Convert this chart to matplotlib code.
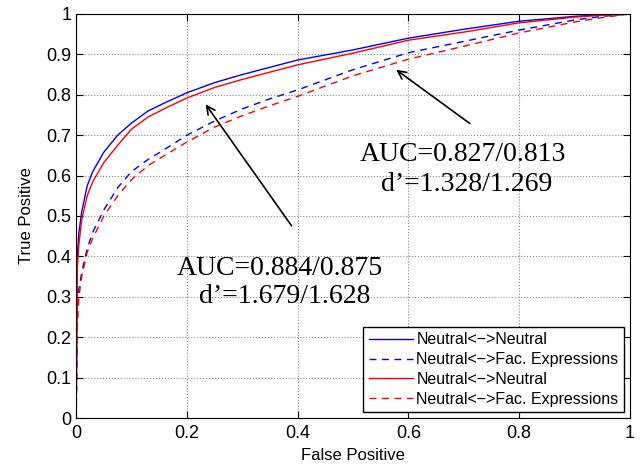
import numpy as np
import matplotlib
matplotlib.use('Agg')
import matplotlib.pyplot as plt

# valori
fpr = [0, 0.002, 0.005, 0.01, 0.02, 0.03, 0.05, 0.075, 0.1, 0.13, 0.16, 0.2,
       0.25, 0.3, 0.35, 0.4, 0.5, 0.6, 0.7, 0.8, 0.9, 0.95, 1.0]
tpr_blue = [0, 0.40, 0.46, 0.51, 0.575, 0.61, 0.658, 0.70, 0.73, 0.76, 0.78, 0.805,
            0.83, 0.85, 0.868, 0.886, 0.911, 0.94, 0.962, 0.982, 0.994, 0.998, 1.0]
tpr_blue_fac = [0, 0.26, 0.32, 0.36, 0.42, 0.46, 0.515, 0.57, 0.61, 0.64, 0.665, 0.70,
                0.735, 0.765, 0.79, 0.812, 0.862, 0.904, 0.932, 0.96, 0.985, 0.994, 1.0]
tpr_red = [0, 0.37, 0.43, 0.49, 0.55, 0.585, 0.632, 0.675, 0.715, 0.745, 0.766, 0.792,
           0.818, 0.838, 0.856, 0.874, 0.903, 0.935, 0.955, 0.978, 0.992, 0.997, 1.0]
tpr_red_fac = [0, 0.22, 0.30, 0.35, 0.41, 0.445, 0.50, 0.55, 0.59, 0.625, 0.65, 0.683,
               0.72, 0.748, 0.773, 0.796, 0.847, 0.888, 0.92, 0.953, 0.98, 0.991, 1.0]

labels = ['Neutral<\u2212>Neutral', 'Neutral<\u2212>Fac. Expressions',
          'Neutral<\u2212>Neutral', 'Neutral<\u2212>Fac. Expressions']

plt.rcParams['font.family'] = ['Liberation Sans', 'DejaVu Sans']

fig = plt.figure(figsize=(6.4, 4.65), dpi=100)
ax = fig.add_axes([0.119, 0.101, 0.865, 0.869])

ax.plot(fpr, tpr_blue, color='blue', lw=1, label=labels[0])
ax.plot(fpr, tpr_blue_fac, color='blue', lw=1, ls=(0, (5, 4)), label=labels[1])
ax.plot(fpr, tpr_red, color='red', lw=1, label=labels[2])
ax.plot(fpr, tpr_red_fac, color='red', lw=1, ls=(0, (5, 4)), label=labels[3])

ax.set_xlim(0, 1)
ax.set_ylim(0, 1)
ax.set_xticks(np.arange(0, 1.01, 0.2))
ax.set_xticklabels(['0', '0.2', '0.4', '0.6', '0.8', '1'])
ax.set_yticks(np.arange(0, 1.01, 0.1))
ax.set_yticklabels(['0', '0.1', '0.2', '0.3', '0.4', '0.5', '0.6', '0.7', '0.8', '0.9', '1'])
ax.tick_params(direction='in', top=True, right=True, labelsize=13, length=5)
ax.tick_params(axis='x', pad=5)
ax.grid(True, ls=':', color='#888888', lw=0.8)
ax.set_xlabel('False Positive', fontsize=12, labelpad=4)
ax.set_ylabel('True Positive', fontsize=12, labelpad=9)

serif = dict(family='Liberation Serif', fontsize=20, ha='center', va='center')
ax.text(0.699, 0.651, 'AUC=0.827/0.813', **serif)
ax.text(0.705, 0.577, 'd\u2019=1.328/1.269', **serif)
ax.text(0.368, 0.371, 'AUC=0.884/0.875', **serif)
ax.text(0.376, 0.300, 'd\u2019=1.679/1.628', **serif)

ax.annotate('', xy=(0.574, 0.866), xytext=(0.715, 0.725),
            arrowprops=dict(arrowstyle='->', color='black', lw=1.2, mutation_scale=15))
ax.annotate('', xy=(0.231, 0.782), xytext=(0.392, 0.470),
            arrowprops=dict(arrowstyle='->', color='black', lw=1.2, mutation_scale=15))

leg = ax.legend(loc='lower right', fontsize=11.5, fancybox=False, framealpha=1,
                edgecolor='black', borderaxespad=0.35, handlelength=2.8,
                handletextpad=0.2, labelspacing=0.3, borderpad=0.35)
leg.get_frame().set_linewidth(1)

fig.savefig('out.png', dpi=100)
